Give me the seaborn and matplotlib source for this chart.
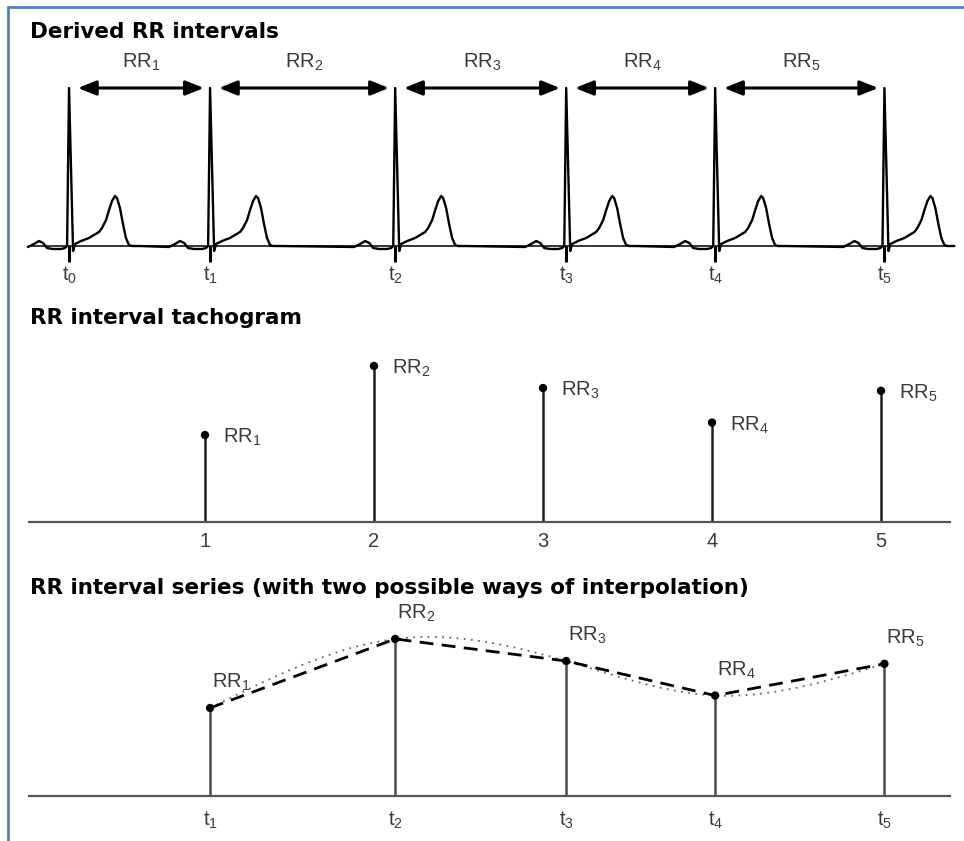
import numpy as np
import pandas as pd
import matplotlib
matplotlib.use("Agg")
import matplotlib.pyplot as plt
from matplotlib.lines import Line2D
import seaborn as sns

# ---------------------------------------------------------------- data
# times of the six R peaks (s)
r_peak_times = [0.0, 0.80, 1.85, 2.82, 3.665, 4.625]
# one heartbeat: offset from the R peak (s) and amplitude (mV)
beat_offsets = [-0.233, -0.199, -0.170, -0.147, -0.125, -0.091, -0.045, -0.023,
                -0.011, 0.0, 0.023, 0.034, 0.045, 0.068, 0.113, 0.170, 0.187,
                0.210, 0.227, 0.244, 0.261, 0.272, 0.289, 0.306, 0.323, 0.340,
                0.357, 0.397]
beat_amplitudes = [-0.01, 0.02, 0.05, 0.03, -0.02, -0.03, -0.03, -0.02,
                   0.0, 1.58, -0.05, 0.02, 0.03, 0.05, 0.08, 0.14, 0.18,
                   0.26, 0.36, 0.45, 0.50, 0.48, 0.38, 0.22, 0.08, 0.01,
                   0.0, 0.0]
beat_numbers = [1, 2, 3, 4, 5]
rr_names = ["RR$_1$", "RR$_2$", "RR$_3$", "RR$_4$", "RR$_5$"]
time_names = ["t$_0$", "t$_1$", "t$_2$", "t$_3$", "t$_4$", "t$_5$"]
panel_titles = ["Derived RR intervals",
                "RR interval tachogram",
                "RR interval series (with two possible ways of interpolation)"]

rr_intervals = np.diff(r_peak_times)          # RR_i = t_i - t_(i-1)
rr_times = r_peak_times[1:]

# ---------------------------------------------------------------- style
sns.set_theme(style="white")
plt.rcParams["font.family"] = ["Liberation Sans", "DejaVu Sans"]
plt.rcParams["mathtext.default"] = "regular"

W, H = 964, 841
fig = plt.figure(figsize=(W / 100, H / 100), dpi=100)


def box(x0, y0, x1, y1):
    """axes rectangle from pixel corners (top-left origin)"""
    return [x0 / W, 1 - y1 / H, (x1 - x0) / W, (y1 - y0) / H]


TXT = "#3a3a3a"
LBL = 14.5

# ---------------------------------------------------------------- ECG strip
ax1 = fig.add_axes(box(29, 60, 950, 246))
ecg = pd.DataFrame({
    "time": np.concatenate([np.asarray(beat_offsets) + t for t in r_peak_times]),
    "mV": np.tile(beat_amplitudes, len(r_peak_times)),
})
sns.lineplot(data=ecg, x="time", y="mV", sort=False, estimator=None,
             color="black", lw=1.7, ax=ax1, clip_on=False)
ax1.set_xlim(-0.227, 4.997)
ax1.set_ylim(0, 1.86)

arrow_y = 1.58
for i, rr in enumerate(rr_intervals):
    t_a, t_b = r_peak_times[i], r_peak_times[i + 1]
    ax1.annotate("", xy=(t_b - 0.035, arrow_y), xytext=(t_a + 0.05, arrow_y),
                 arrowprops=dict(arrowstyle="<|-|>,head_length=0.55,head_width=0.22",
                                 lw=2.2, color="black", mutation_scale=20,
                                 shrinkA=0, shrinkB=0))
    ax1.text((t_a + t_b) / 2 + 0.01, 1.78, rr_names[i], ha="center",
             va="baseline", fontsize=LBL, color=TXT)

ax1.set_xticks(r_peak_times)
ax1.set_xticklabels(time_names)
ax1.tick_params(axis="x", direction="out", length=11.5, width=2.2,
                color="black", pad=2, labelsize=LBL, labelcolor=TXT, bottom=True)
ax1.set_yticks([])
ax1.set_xlabel("")
ax1.set_ylabel("")
for s in ("top", "left", "right"):
    ax1.spines[s].set_visible(False)
ax1.spines["bottom"].set_color("black")
ax1.spines["bottom"].set_linewidth(1.1)

# ---------------------------------------------------------------- tachogram
ax2 = fig.add_axes(box(29, 340, 950, 522))
y2_base = 0.485
ax2.set_xlim(-0.041, 5.408)
ax2.set_ylim(y2_base, 1.144)
ax2.vlines(beat_numbers, y2_base, rr_intervals, color="#1e1e1e", lw=1.8)
sns.scatterplot(x=beat_numbers, y=rr_intervals, color="black", s=36,
                edgecolor="none", ax=ax2, zorder=3, clip_on=False)
for b, rr, name in zip(beat_numbers, rr_intervals, rr_names):
    ax2.annotate(name, xy=(b, rr), xytext=(18, -8), textcoords="offset pixels",
                 ha="left", va="baseline", fontsize=LBL, color=TXT)
ax2.set_xticks(beat_numbers)
ax2.set_xticklabels([str(b) for b in beat_numbers])
ax2.tick_params(axis="x", length=0, pad=7, labelsize=LBL, labelcolor=TXT)
ax2.set_yticks([])
for s in ("top", "left", "right"):
    ax2.spines[s].set_visible(False)
ax2.spines["bottom"].set_color("#555555")
ax2.spines["bottom"].set_linewidth(1.6)

# ---------------------------------------------------------------- RR series
ax3 = fig.add_axes(box(29, 615, 950, 796))
y3_base = 0.481
ax3.set_xlim(-0.227, 4.997)
ax3.set_ylim(y3_base, y3_base + 181 / 276)


def natural_cubic_spline(x, y, xs):
    x = np.asarray(x, float)
    y = np.asarray(y, float)
    n = len(x)
    h = np.diff(x)
    A = np.zeros((n, n))
    rhs = np.zeros(n)
    A[0, 0] = A[-1, -1] = 1.0
    for i in range(1, n - 1):
        A[i, i - 1] = h[i - 1]
        A[i, i] = 2 * (h[i - 1] + h[i])
        A[i, i + 1] = h[i]
        rhs[i] = 6 * ((y[i + 1] - y[i]) / h[i] - (y[i] - y[i - 1]) / h[i - 1])
    M = np.linalg.solve(A, rhs)
    idx = np.clip(np.searchsorted(x, xs) - 1, 0, n - 2)
    x0, x1, hh = x[idx], x[idx + 1], h[idx]
    return (M[idx] * (x1 - xs) ** 3 / (6 * hh) + M[idx + 1] * (xs - x0) ** 3 / (6 * hh)
            + (y[idx] / hh - M[idx] * hh / 6) * (x1 - xs)
            + (y[idx + 1] / hh - M[idx + 1] * hh / 6) * (xs - x0))


xs = np.linspace(rr_times[0], rr_times[-1], 400)
spline = pd.DataFrame({"t": xs, "rr": natural_cubic_spline(rr_times, rr_intervals, xs)})
sns.lineplot(data=spline, x="t", y="rr", color="#666666", lw=1.3,
             linestyle=(0, (1, 3)), ax=ax3)
linear = pd.DataFrame({"t": rr_times, "rr": rr_intervals})
sns.lineplot(data=linear, x="t", y="rr", sort=False, estimator=None,
             color="black", lw=2.0, linestyle=(0, (5, 3)), ax=ax3)
ax3.vlines(rr_times, y3_base, rr_intervals, color="#4a4a4a", lw=1.8)
sns.scatterplot(x=rr_times, y=rr_intervals, color="black", s=36,
                edgecolor="none", ax=ax3, zorder=3, clip_on=False)
for t, rr, name in zip(rr_times, rr_intervals, rr_names):
    ax3.annotate(name, xy=(t, rr), xytext=(2, 20), textcoords="offset pixels",
                 ha="left", va="baseline", fontsize=LBL, color=TXT)
ax3.set_xticks(rr_times)
ax3.set_xticklabels(time_names[1:])
ax3.tick_params(axis="x", length=0, pad=10, labelsize=LBL, labelcolor=TXT)
ax3.set_yticks([])
ax3.set_xlabel("")
ax3.set_ylabel("")
for s in ("top", "left", "right"):
    ax3.spines[s].set_visible(False)
ax3.spines["bottom"].set_color("#555555")
ax3.spines["bottom"].set_linewidth(1.6)

# ---------------------------------------------------------------- titles, frame
for title, y in zip(panel_titles, (32, 318, 588)):
    fig.text(30 / W, 1 - y / H, title, ha="left", va="center",
             fontsize=15.5, fontweight="bold", color="black",
             family=["DejaVu Sans"])

fig.add_artist(Line2D([8 / W, 1], [1 - 7 / H, 1 - 7 / H], color="#4f81bd", lw=2))
fig.add_artist(Line2D([8 / W, 8 / W], [0, 1 - 7 / H], color="#4f81bd", lw=2))

fig.savefig("out.png", dpi=100, facecolor="white")
